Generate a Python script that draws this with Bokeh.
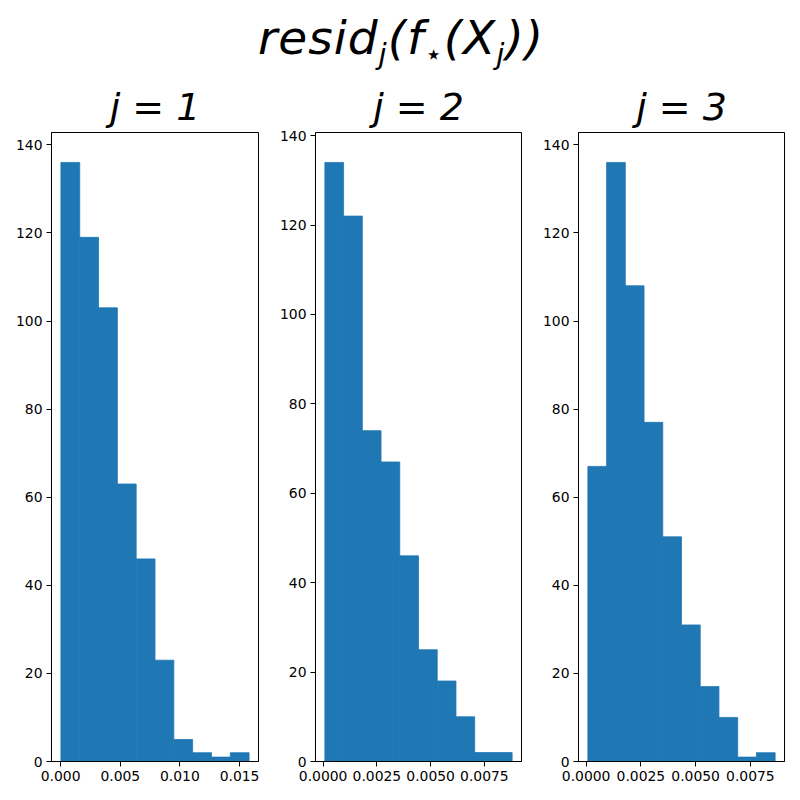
import numpy as np
from bokeh.plotting import figure
from bokeh.layouts import row, column
from bokeh.models import Div, Range1d, FixedTicker, SingleIntervalTicker, NumeralTickFormatter
from bokeh.embed import file_html
from bokeh.resources import INLINE

# Histogram data (10 bins each)
panel_titles = ["j = 1", "j = 2", "j = 3"]
counts_1 = [136, 119, 103, 63, 46, 23, 5, 2, 1, 2]
counts_2 = [134, 122, 74, 67, 46, 25, 18, 10, 2, 2]
counts_3 = [67, 136, 108, 77, 51, 31, 17, 10, 1, 2]
bin_range_1 = [0.00002, 0.0158]
bin_range_2 = [0.00008, 0.00879]
bin_range_3 = [0.00008, 0.00863]
xticks_1 = [0.0, 0.005, 0.010, 0.015]
xticks_2 = [0.0, 0.0025, 0.005, 0.0075]
xticks_3 = [0.0, 0.0025, 0.005, 0.0075]
xfmt_1 = "0.000"
xfmt_2 = "0.0000"
xfmt_3 = "0.0000"

BLUE = "#1f77b4"
FONT = "DejaVu Sans"

def make_panel(title, counts, brange, xticks, xfmt, width, left, right):
    counts = np.asarray(counts, dtype=float)
    edges = np.linspace(brange[0], brange[1], len(counts) + 1)
    span = brange[1] - brange[0]
    p = figure(width=width, height=714, output_backend="svg", toolbar_location=None,
               x_range=Range1d(brange[0] - 0.05 * span, brange[1] + 0.05 * span),
               y_range=Range1d(0, counts.max() * 1.05),
               min_border_left=left, min_border_right=right,
               min_border_top=51, min_border_bottom=31)
    p.quad(left=edges[:-1], right=edges[1:], bottom=0, top=counts,
           fill_color=BLUE, line_color=BLUE, line_width=0.8)
    p.title.text = title
    p.title.align = "center"
    p.title.text_font = FONT
    p.title.text_font_size = "38px"
    p.title.text_font_style = "italic"
    p.title.text_color = "black"
    p.title.standoff = 8
    p.xgrid.visible = False
    p.ygrid.visible = False
    p.outline_line_color = "black"
    p.outline_line_width = 1
    p.outline_line_alpha = 1
    p.xaxis.ticker = FixedTicker(ticks=xticks)
    p.xaxis.formatter = NumeralTickFormatter(format=xfmt)
    p.yaxis.ticker = SingleIntervalTicker(interval=20, num_minor_ticks=0)
    for ax in (p.xaxis, p.yaxis):
        ax.axis_line_color = "black"
        ax.major_tick_line_color = "black"
        ax.major_tick_in = 0
        ax.major_tick_out = 5
        ax.minor_tick_line_color = None
        ax.major_label_text_font = FONT
        ax.major_label_text_font_size = "13.9px"
        ax.major_label_text_color = "black"
        ax.major_label_standoff = 4
    return p

p1 = make_panel(panel_titles[0], counts_1, bin_range_1, xticks_1, xfmt_1, 271, 51, 13)
p2 = make_panel(panel_titles[1], counts_2, bin_range_2, xticks_2, xfmt_2, 263, 44, 13)
p3 = make_panel(panel_titles[2], counts_3, bin_range_3, xticks_3, xfmt_3, 258, 44, 8)

title_html = ('<div style="width:784px;padding-left:8px;text-align:center;font-family:\'DejaVu Sans\';'
              'font-size:47px;font-style:italic;line-height:66px;color:black;letter-spacing:1px;">'
              'resid<sub style="font-size:62%">j</sub>(f<sub style="font-size:62%">&#8902;</sub>'
              '(X<sub style="font-size:62%">j</sub>))</div>')
title = Div(text=title_html, width=792, height=68)

layout = column(title, row(p1, p2, p3))
open("out.html", "w").write(file_html(layout, INLINE))
